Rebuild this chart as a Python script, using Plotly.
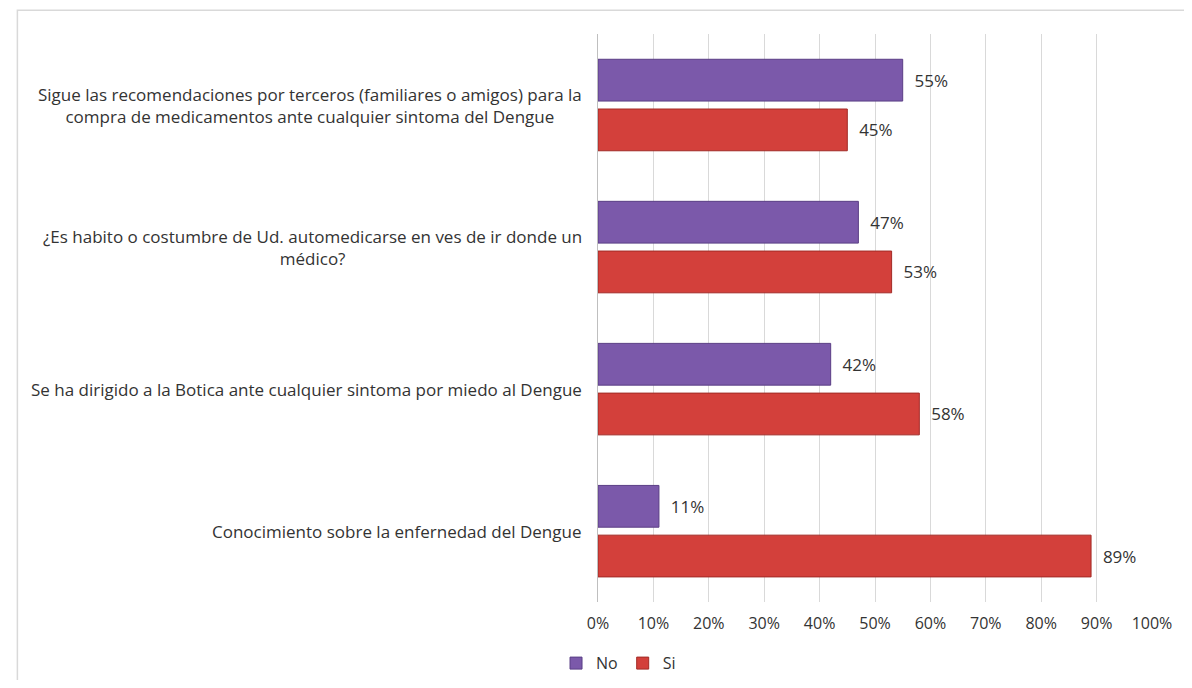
import plotly.graph_objects as go

# Survey items, top to bottom as in the chart
categories = [
    "Sigue las recomendaciones por terceros (familiares o amigos) para la<br>compra de medicamentos ante cualquier sintoma del Dengue",
    "¿Es habito o costumbre de Ud. automedicarse en ves de ir donde un<br>médico?",
    "Se ha dirigido a la Botica ante cualquier sintoma por miedo al Dengue",
    "Conocimiento sobre la enfernedad del Dengue",
]
no_values = [0.55, 0.47, 0.42, 0.11]
si_values = [0.45, 0.53, 0.58, 0.89]
tick_vals = [0, 0.1, 0.2, 0.3, 0.4, 0.5, 0.6, 0.7, 0.8, 0.9, 1.0]
tick_text = ["0%", "10%", "20%", "30%", "40%", "50%", "60%", "70%", "80%", "90%", "100%"]

FONT = "Open Sans, Lato, sans-serif"
TEXT_COLOR = "#333333"
PAD = "\u00a0\u00a0"

fig = go.Figure()
fig.add_bar(
    y=categories,
    x=no_values,
    name="No",
    orientation="h",
    marker=dict(color="#7b59aa", line=dict(color="#5a3e85", width=1)),
    text=[PAD + f"{v:.0%}" for v in no_values],
    textposition="outside",
    textfont=dict(size=17, color=TEXT_COLOR),
    cliponaxis=False,
)
fig.add_bar(
    y=categories,
    x=si_values,
    name="Si",
    orientation="h",
    marker=dict(color="#d3403b", line=dict(color="#a22a26", width=1)),
    text=[PAD + f"{v:.0%}" for v in si_values],
    textposition="outside",
    textfont=dict(size=17, color=TEXT_COLOR),
    cliponaxis=False,
)

# category labels: centred lines, block right-aligned next to the plot
for cat in categories:
    fig.add_annotation(
        x=0, xref="paper", y=cat, yref="y",
        text=cat, showarrow=False,
        xanchor="right", yanchor="middle", align="center",
        xshift=-14,
        font=dict(size=17, color=TEXT_COLOR),
    )

fig.update_layout(
    width=1176,
    height=672,
    barmode="group",
    bargap=0.30,
    bargroupgap=0.16,
    margin=dict(l=590, r=24, t=26, b=73),
    font=dict(family=FONT, size=16, color=TEXT_COLOR),
    plot_bgcolor="white",
    paper_bgcolor="white",
    showlegend=True,
    legend=dict(
        orientation="h",
        xref="container",
        yref="container",
        x=0.466,
        y=0.025,
        xanchor="left",
        yanchor="middle",
        bgcolor="rgba(0,0,0,0)",
        font=dict(size=16),
        itemwidth=30,
        traceorder="normal",
    ),
    shapes=[
        # chart-area frame: only the top and left edges fall inside the window
        dict(
            type="rect", xref="paper", yref="paper",
            x0=-589 / 573 * 573 / 562, x1=2.0, y0=-1.0, y1=1 + 24 / 573,
            line=dict(color="#d9d9d9", width=1.5), fillcolor="rgba(0,0,0,0)",
            layer="below",
        )
    ],
)
fig.update_xaxes(
    range=[0, 1.0],
    tickvals=tick_vals,
    ticktext=tick_text,
    showgrid=True,
    gridcolor="#d9d9d9",
    gridwidth=1,
    zeroline=False,
    showline=False,
    tickfont=dict(size=16),
    ticks="",
    ticklabelstandoff=10,
)
fig.update_yaxes(
    autorange="reversed",
    showgrid=False,
    showline=True,
    linecolor="#bfbfbf",
    ticks="",
    showticklabels=False,
)

fig.write_html("out.html")
